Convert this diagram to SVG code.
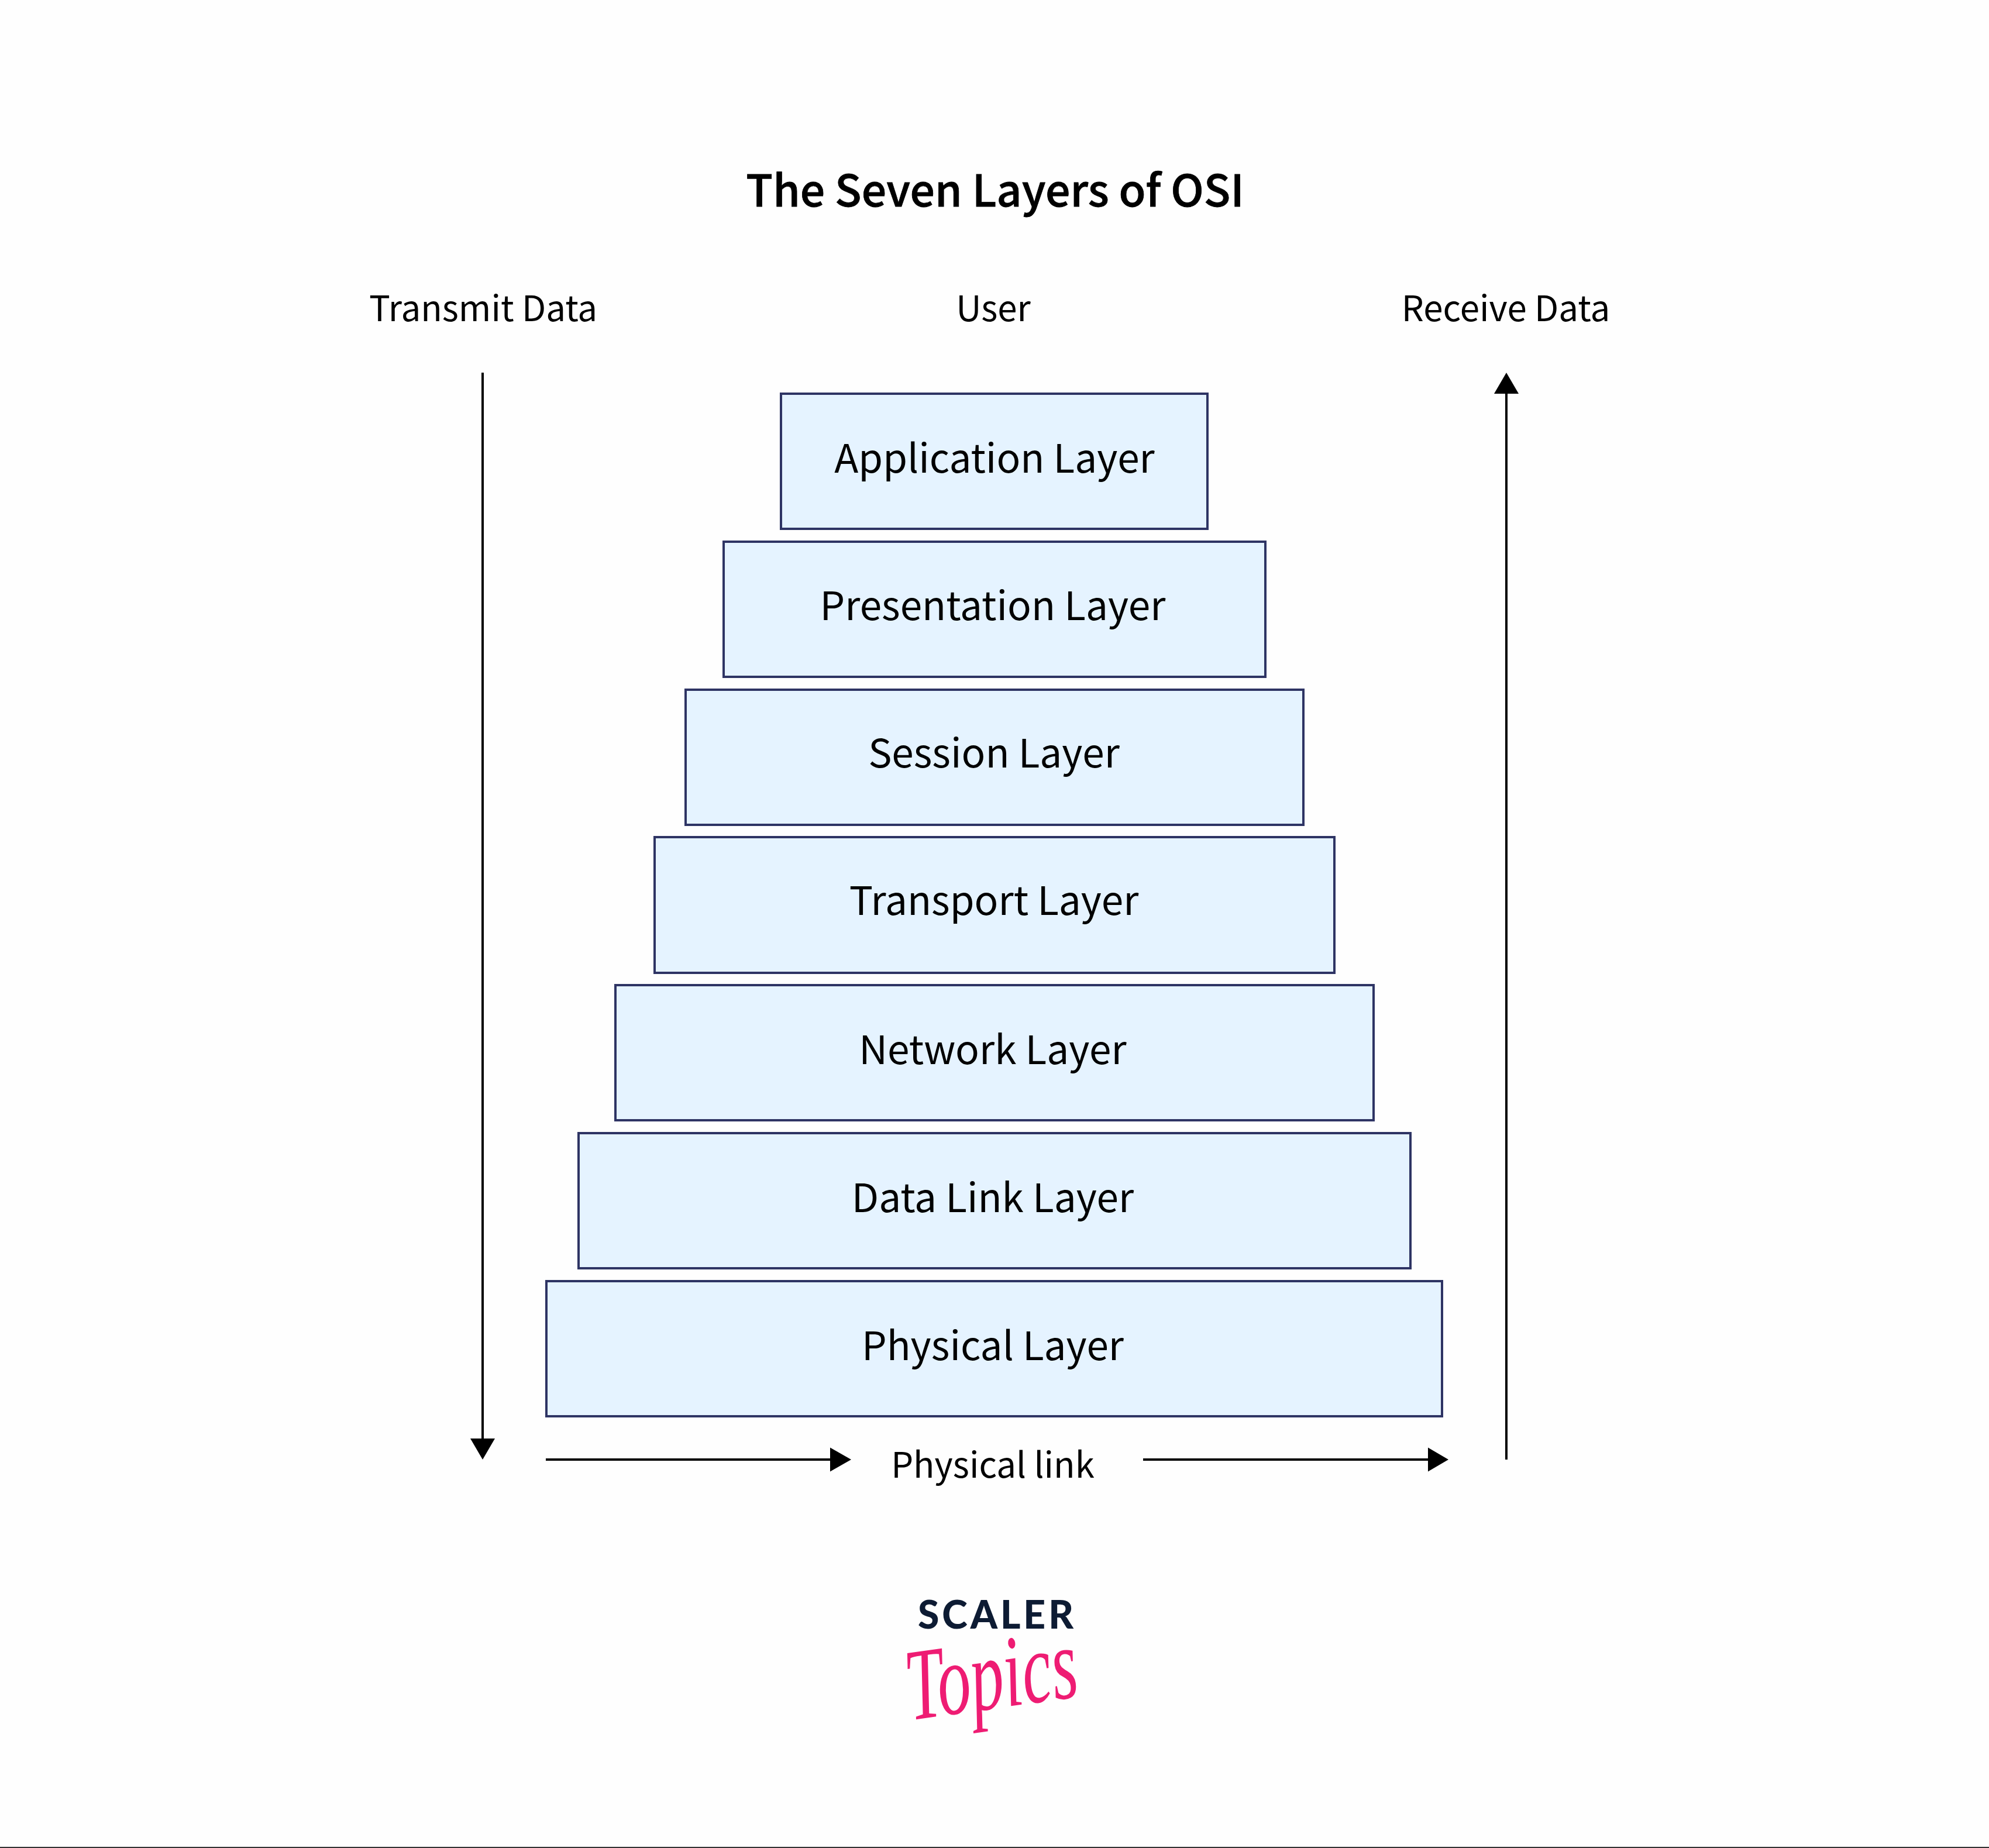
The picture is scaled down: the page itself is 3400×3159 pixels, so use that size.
<svg xmlns="http://www.w3.org/2000/svg" width="3400" height="3159" viewBox="0 0 3400 3159">
<style>
text{font-family:"Noto Sans CJK SC","Noto Sans",sans-serif;fill:#000;text-anchor:middle}
.t{font-size:75px;font-weight:500;stroke:#000;stroke-width:0.800px}
.l{font-size:60px}
.n{font-size:67.500px}
.b{fill:#e5f3ff;stroke:#2e3464;stroke-width:4}
.c{fill:none;stroke:#000;stroke-width:4}
.h{fill:#000;stroke:none}
</style>
<rect width="3400" height="3159" fill="#fefefe"/>
<text class="t" x="1701" y="353">The Seven Layers of OSI</text>
<text class="l" x="826" y="549">Transmit Data</text>
<text class="l" x="1698" y="549">User</text>
<text class="l" x="2574" y="549">Receive Data</text>
<g id="application"><rect class="b" x="1335" y="673" width="729" height="231"/><text class="n" x="1700" y="808">Application Layer</text></g>
<g id="presentation"><rect class="b" x="1237" y="926" width="926" height="231"/><text class="n" x="1697" y="1060">Presentation Layer</text></g>
<g id="session"><rect class="b" x="1172" y="1179" width="1056" height="231"/><text class="n" x="1699" y="1312">Session Layer</text></g>
<g id="transport"><rect class="b" x="1119" y="1431" width="1162" height="232"/><text class="n" x="1699" y="1564">Transport Layer</text></g>
<g id="network"><rect class="b" x="1052" y="1684" width="1296" height="231"/><text class="n" x="1697" y="1819">Network Layer</text></g>
<g id="datalink"><rect class="b" x="989" y="1937" width="1422" height="231"/><text class="n" x="1697" y="2072">Data Link Layer</text></g>
<g id="physical"><rect class="b" x="934" y="2190" width="1531" height="231"/><text class="n" x="1697" y="2325">Physical Layer</text></g>
<g id="connectors">
<line class="c" x1="825" y1="637" x2="825" y2="2462"/>
<polygon class="h" points="804,2459 846,2459 825,2495"/>
<line class="c" x1="2575" y1="2495" x2="2575" y2="670"/>
<polygon class="h" points="2554,673 2596,673 2575,637"/>
<line class="c" x1="933" y1="2495" x2="1422" y2="2495"/>
<polygon class="h" points="1419,2474.500 1419,2515.500 1455,2495"/>
<line class="c" x1="1954" y1="2495" x2="2444" y2="2495"/>
<polygon class="h" points="2441,2474.500 2441,2515.500 2476,2495"/>
</g>
<text class="l" x="1697" y="2526">Physical link</text>
<g id="logo">
<text x="1702" y="2784" style="font-family:Lato,sans-serif;font-weight:900;font-size:66px;fill:#0d1b33" textLength="266" lengthAdjust="spacing">SCALER</text>
<text transform="translate(1702 2920) rotate(-8) scale(0.88 1.34)" style="font-family:'Liberation Serif',serif;font-style:italic;font-size:130px;fill:#ee1c73">Topics</text>
</g>
<rect id="baseline" x="0" y="3157" width="3400" height="2" fill="#333"/>
</svg>
